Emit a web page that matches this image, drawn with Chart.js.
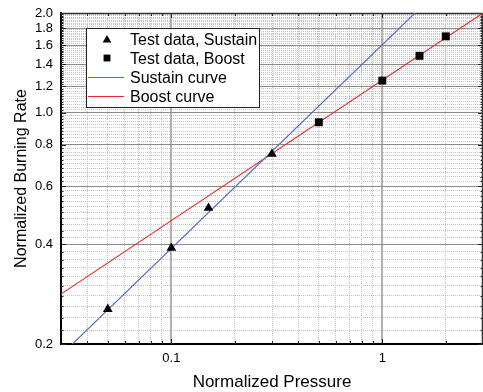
<!DOCTYPE html>
<html><head><meta charset="utf-8">
<script src="https://cdn.jsdelivr.net/npm/chart.js@4.4.1/dist/chart.umd.min.js"></script>
<style>html,body{margin:0;padding:0;background:#fff;overflow:hidden}</style>
</head><body>
<canvas id="c" width="483" height="392" style="display:block;width:483px;height:392px"></canvas>
<script>
// ---- data ----
const sustainPressure = [0.05, 0.1, 0.15, 0.3];
const sustainRate     = [0.255, 0.39, 0.515, 0.75];
const boostPressure   = [0.5, 1, 1.5, 2];
const boostRate       = [0.935, 1.25, 1.485, 1.70];
const sustainCurveP   = [0.034, 1.43];
const sustainCurveR   = [0.2, 2.0];
const boostCurveP     = [0.03, 3];
const boostCurveR     = [0.283, 2.0];
const seriesLabels    = ['Test data, Sustain', 'Test data, Boost', 'Sustain curve', 'Boost curve'];

// ---- ticks ----
const xMajorTicks = [0.1, 1];
const xTickLabels = ['0.1', '1'];
const xMinorTicks = [0.04, 0.05, 0.06, 0.07, 0.08, 0.09, 0.2, 0.3, 0.4, 0.5, 0.6, 0.7, 0.8, 0.9, 2];
const yMajorTicks = [0.2, 0.4, 0.6, 0.8, 1.0, 1.2, 1.4, 1.6, 1.8, 2.0];
const yTickLabels = ['0.2', '0.4', '0.6', '0.8', '1.0', '1.2', '1.4', '1.6', '1.8', '2.0'];
const yMinorTicks = [];
for (let k = 11; k < 100; k++) { if (k % 10 !== 0) yMinorTicks.push(k / 50); }

const FONT = "'Liberation Sans', Arial, sans-serif";
Chart.defaults.font.family = FONT;
Chart.defaults.color = '#000';

const BLUE = '#4e6bc6';
const RED = '#f2262e';

const pts = (xs, ys) => xs.map((x, i) => ({x: x, y: ys[i]}));

const innerTicks = {
  id: 'innerTicks',
  beforeDatasetsDraw(chart) {
    const {ctx, chartArea: a, scales} = chart;
    const x = scales.x, y = scales.y;
    ctx.save();
    ctx.strokeStyle = '#222';
    ctx.lineWidth = 1;
    ctx.beginPath();
    const vt = (v, len) => {
      const p = Math.round(x.getPixelForValue(v)) + 0.5;
      ctx.moveTo(p, a.bottom); ctx.lineTo(p, a.bottom - len);
      ctx.moveTo(p, a.top); ctx.lineTo(p, a.top + len);
    };
    const ht = (v, len) => {
      const p = Math.round(y.getPixelForValue(v)) + 0.5;
      ctx.moveTo(a.left, p); ctx.lineTo(a.left + len, p);
      ctx.moveTo(a.right, p); ctx.lineTo(a.right - len, p);
    };
    xMajorTicks.forEach(v => vt(v, 5));
    xMinorTicks.forEach(v => vt(v, 3));
    yMajorTicks.forEach(v => ht(v, 5));
    yMinorTicks.forEach(v => ht(v, 2.5));
    ctx.stroke();
    ctx.strokeStyle = '#333';
    ctx.lineWidth = 1.5;
    ctx.beginPath();
    ctx.moveTo(a.left, a.top + 0.5); ctx.lineTo(a.right, a.top + 0.5);
    ctx.moveTo(a.right - 0.5, a.top); ctx.lineTo(a.right - 0.5, a.bottom);
    ctx.stroke();
    ctx.restore();
  }
};

const boxLegend = {
  id: 'boxLegend',
  afterDraw(chart) {
    const ctx = chart.ctx;
    const bx = 86.5, by = 28.5, bw = 173, bh = 79;
    ctx.save();
    ctx.fillStyle = '#fff';
    ctx.fillRect(bx, by, bw, bh);
    ctx.strokeStyle = '#222';
    ctx.lineWidth = 1;
    ctx.strokeRect(bx, by, bw, bh);
    ctx.font = '16px ' + FONT;
    ctx.textBaseline = 'alphabetic';
    ctx.textAlign = 'left';
    chart.data.datasets.forEach((ds, i) => {
      const cy = 39 + i * 19;
      if (ds.showLine) {
        ctx.strokeStyle = ds.borderColor;
        ctx.lineWidth = 1;
        ctx.beginPath();
        ctx.moveTo(88, cy + 0.5); ctx.lineTo(124, cy + 0.5);
        ctx.stroke();
      } else {
        Chart.helpers.drawPoint(ctx, {
          pointStyle: ds.pointStyle, radius: ds.pointStyle === 'rect' ? 4.6 : 5,
          borderWidth: 0, rotation: 0
        }, 107, cy + (ds.pointStyle === 'triangle' ? 1 : 0));
        ctx.fillStyle = '#000';
        ctx.fill();
      }
      ctx.fillStyle = '#000';
      ctx.fillText(ds.label, 130, cy + 6);
    });
    ctx.restore();
  }
};

new Chart(document.getElementById('c'), {
  type: 'scatter',
  data: {
    datasets: [
      {label: seriesLabels[0], data: pts(sustainPressure, sustainRate), pointStyle: 'triangle',
       pointRadius: 5.6, pointHoverRadius: 5.6, backgroundColor: '#000', borderColor: '#000', borderWidth: 0, showLine: false, order: 0},
      {label: seriesLabels[1], data: pts(boostPressure, boostRate), pointStyle: 'rect',
       pointRadius: 5.6, pointHoverRadius: 5.6, backgroundColor: '#000', borderColor: '#000', borderWidth: 0, showLine: false, order: 0},
      {label: seriesLabels[2], data: pts(sustainCurveP, sustainCurveR), showLine: true, pointRadius: 0,
       borderColor: BLUE, backgroundColor: BLUE, borderWidth: 1.1, order: 1},
      {label: seriesLabels[3], data: pts(boostCurveP, boostCurveR), showLine: true, pointRadius: 0,
       borderColor: RED, backgroundColor: RED, borderWidth: 1.1, order: 1}
    ]
  },
  options: {
    responsive: false,
    animation: false,
    devicePixelRatio: 1,
    layout: {autoPadding: false, padding: {top: 13, right: 0, left: 0, bottom: 0}},
    plugins: {legend: {display: false}, tooltip: {enabled: false}},
    scales: {
      xMinor: {
        type: 'logarithmic', position: 'bottom', min: 0.03, max: 3,
        afterBuildTicks: s => { s.ticks = xMinorTicks.map(v => ({value: v})); },
        ticks: {display: false},
        grid: {color: '#c4c4c4', lineWidth: 1, drawTicks: false},
        border: {display: false, dash: [1, 1]},
        afterFit: s => { s.height = 0; s.paddingLeft = 0; s.paddingRight = 0; }
      },
      yMinor: {
        type: 'logarithmic', position: 'left', min: 0.2, max: 2.0,
        afterBuildTicks: s => { s.ticks = yMinorTicks.map(v => ({value: v})); },
        ticks: {display: false},
        grid: {color: '#c4c4c4', lineWidth: 1, drawTicks: false},
        border: {display: false, dash: [1, 1]},
        afterFit: s => { s.width = 0; s.paddingTop = 0; s.paddingBottom = 0; }
      },
      x: {
        type: 'logarithmic', position: 'bottom', min: 0.03, max: 3,
        afterBuildTicks: s => { s.ticks = xMajorTicks.map(v => ({value: v})); },
        ticks: {
          callback: (v) => { const i = xMajorTicks.indexOf(v); return i >= 0 ? xTickLabels[i] : ''; },
          font: {size: 13}, color: '#000', padding: 7, maxRotation: 0, autoSkip: false
        },
        grid: {color: '#b0b0b0', lineWidth: 2, drawTicks: false},
        border: {display: true, color: '#000', width: 2},
        title: {display: true, text: 'Normalized Pressure', font: {size: 17}, color: '#000', padding: {top: 0, bottom: -1}},
        afterFit: s => { s.height = 48; s.paddingLeft = 0; s.paddingRight = 0; }
      },
      y: {
        type: 'logarithmic', position: 'left', min: 0.2, max: 2.0,
        afterBuildTicks: s => { s.ticks = yMajorTicks.map(v => ({value: v})); },
        ticks: {
          callback: (v) => { const i = yMajorTicks.findIndex(t => Math.abs(t - v) < 1e-9); return i >= 0 ? yTickLabels[i] : ''; },
          font: {size: 13}, color: '#000', padding: 8, autoSkip: false
        },
        grid: {color: '#8a8a8a', lineWidth: 1, drawTicks: false},
        border: {display: true, color: '#000', width: 2},
        title: {display: true, text: 'Normalized Burning Rate', font: {size: 16}, color: '#000', padding: {top: 12, bottom: 0}},
        afterFit: s => { s.width = 61; s.paddingTop = 0; s.paddingBottom = 0; }
      }
    }
  },
  plugins: [innerTicks, boxLegend]
});
</script>
</body></html>
